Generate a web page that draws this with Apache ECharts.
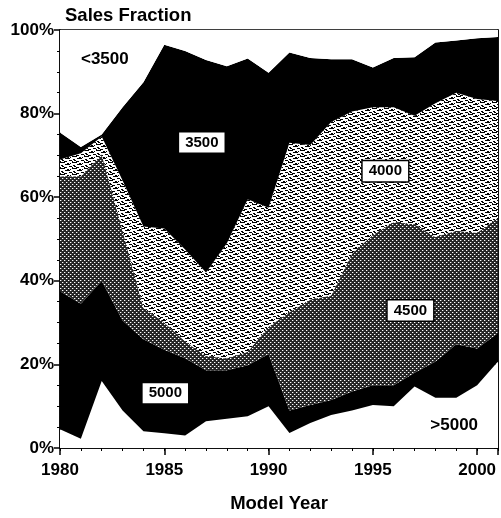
<!DOCTYPE html>
<html>
<head>
<meta charset="utf-8">
<script src="https://cdn.jsdelivr.net/npm/echarts@6/dist/echarts.min.js"></script>
<style>
  html, body { margin: 0; padding: 0; background: #ffffff; }
  #chart { width: 501px; height: 518px; }
</style>
</head>
<body>
<div id="chart"></div>
<script>
// model years
const years = ['1980', '1981', '1982', '1983', '1984', '1985', '1986', '1987', '1988', '1989', '1990',
  '1991', '1992', '1993', '1994', '1995', '1996', '1997', '1998', '1999', '2000', '2001']

// sales fraction (%) by weight class, bottom to top of the stack
const over5000 = [4.5, 2.2, 16, 9, 4, 3.5, 3, 6.4, 7, 7.6, 10, 3.6, 6, 7.9, 9, 10.3, 10, 14.7, 12, 12, 15, 20.7]
const class5000 = [33, 32.3, 24, 21.5, 22, 20, 18.5, 12.2, 11.6, 12.2, 12.5, 5.4, 4.3, 3.6, 4.5, 4.7, 5, 3.3, 8.7, 12.8, 8.8, 6.8]
const class4500 = [27.5, 30.5, 30.3, 21.5, 7.5, 6.5, 4, 3.4, 2.8, 3.2, 6.5, 23.5, 25.2, 25, 33, 36, 39, 35.5, 29.8, 27.2, 27.7, 27.5]
const class4000 = [4, 5.5, 4.2, 12, 19.5, 22.5, 22, 20, 27.6, 36.5, 28.5, 40.5, 37, 41.5, 34, 30.5, 27.5, 26, 32, 33, 32, 28]
const class3500 = [6.5, 1.5, 0.5, 17.5, 34.5, 44, 47.5, 50.8, 42.3, 33.7, 32.3, 21.6, 20.8, 15, 12.5, 9.5, 11.8, 14, 14.5, 12.5, 14.5, 15.3]
const under3500 = [24.5, 28, 25, 18.5, 12.5, 3.5, 5, 7.2, 8.7, 6.8, 10.2, 5.4, 6.7, 7, 7, 9, 6.7, 6.5, 3, 2.5, 2, 1.7]

const yTicks = [0, 20, 40, 60, 80, 100]

// region labels, placed in data space (year, %)
const labelNames = ['<3500', '3500', '4000', '4500', '5000', '>5000']
const labelAt = [[1982.15, 93.1], [1986.8, 73.1], [1995.6, 66.2], [1996.8, 32.9], [1985.05, 13.1], [1998.9, 5.5]]
const labelBoxed = [false, true, true, true, true, false]

const FONT = '"Liberation Sans", Arial, sans-serif'

const makePattern = (w, h, bg, dots) => {
  const canvas = document.createElement('canvas')
  canvas.width = w
  canvas.height = h
  const ctx = canvas.getContext('2d')
  ctx.fillStyle = bg
  ctx.fillRect(0, 0, w, h)
  dots.forEach(([x, y, c]) => {
    ctx.fillStyle = c
    ctx.fillRect(x, y, 1, 1)
  })
  return { image: canvas, repeat: 'repeat' }
}

// dark halftone dots for 4500
const dotsDark = makePattern(4, 4, '#262626', [
  [0, 0, '#ffffff'], [2, 2, '#ffffff'], [1, 0, '#6e6e6e'], [3, 2, '#6e6e6e']
])
// light horizontal speckle for 4000
const speck = [
  [0, 0], [1, 0], [2, 0], [3, 0], [4, 0], [7, 1], [8, 1], [10, 1], [5, 2], [6, 2], [7, 2], [8, 2], [9, 2],
  [1, 3], [2, 3], [9, 4], [10, 4], [11, 4], [2, 4], [3, 4], [4, 5], [5, 5], [6, 5], [0, 5]
]
const stipple = makePattern(12, 6, '#ffffff', speck.map(([x, y]) => [x, y, '#000000']))

const areaSeries = (name, values, fill) => ({
  name,
  type: 'line',
  stack: 'share',
  symbol: 'none',
  xAxisIndex: 0,
  yAxisIndex: 0,
  lineStyle: { width: 0, color: 'transparent' },
  itemStyle: { color: typeof fill === 'string' ? fill : '#666666' },
  areaStyle: { color: fill, opacity: 1 },
  data: values
})

const chart = echarts.init(document.getElementById('chart'))

chart.setOption({
  animation: false,
  backgroundColor: '#ffffff',
  textStyle: { fontFamily: FONT },
  title: {
    text: 'Sales Fraction',
    left: 60,
    top: 1,
    textStyle: { fontFamily: FONT, fontSize: 18.5, fontWeight: 'bold', color: '#000' }
  },
  grid: {
    left: 60,
    right: 3,
    top: 30,
    bottom: 68,
    show: true,
    borderColor: '#000',
    borderWidth: 1.5
  },
  xAxis: [
    {
      type: 'category',
      data: years,
      boundaryGap: false,
      name: 'Model Year',
      nameLocation: 'middle',
      nameGap: 46,
      nameTextStyle: { fontFamily: FONT, fontSize: 18.5, fontWeight: 'bold', color: '#000' },
      axisLine: { lineStyle: { color: '#000', width: 1.5 } },
      axisTick: { interval: 0, length: 3, lineStyle: { color: '#000', width: 1 } },
      splitLine: { show: false },
      axisLabel: {
        interval: 4,
        margin: 14,
        fontFamily: FONT,
        fontSize: 17,
        fontWeight: 'bold',
        color: '#000'
      }
    },
    {
      type: 'value',
      min: 1980,
      max: 2001,
      interval: 5,
      position: 'bottom',
      axisLine: { show: false },
      axisTick: { length: 7, lineStyle: { color: '#000', width: 1.5 } },
      axisLabel: { show: false },
      splitLine: { show: false }
    }
  ],
  yAxis: [
    {
      type: 'value',
      min: 0,
      max: 100,
      interval: 20,
      axisLine: { show: true, lineStyle: { color: '#000', width: 1.5 } },
      axisTick: { show: true, length: 6, lineStyle: { color: '#000', width: 1.5 } },
      minorTick: { show: true, splitNumber: 4, length: 3, lineStyle: { color: '#000', width: 1 } },
      splitLine: { show: false },
      axisLabel: {
        margin: 6,
        fontFamily: FONT,
        fontSize: 17,
        fontWeight: 'bold',
        color: '#000',
        formatter: (v) => (yTicks.includes(v) ? v + '%' : '')
      }
    },
    {
      type: 'value',
      min: 0,
      max: 100,
      interval: 20,
      position: 'right',
      axisLine: { show: true, lineStyle: { color: '#000', width: 1.5 } },
      axisTick: { show: true, inside: true, length: 4, lineStyle: { color: '#000' } },
      minorTick: { show: true, splitNumber: 4, length: 4, lineStyle: { color: '#000' } },
      axisLabel: { show: false },
      splitLine: { show: false }
    }
  ],
  series: [
    areaSeries('>5000', over5000, '#ffffff'),
    areaSeries('5000', class5000, '#000000'),
    areaSeries('4500', class4500, dotsDark),
    areaSeries('4000', class4000, stipple),
    areaSeries('3500', class3500, '#000000'),
    areaSeries('<3500', under3500, '#ffffff'),
    {
      type: 'scatter',
      xAxisIndex: 1,
      yAxisIndex: 0,
      symbolSize: 1,
      itemStyle: { color: 'transparent', opacity: 1 },
      z: 10,
      silent: true,
      data: labelNames.map((name, i) => ({
        value: labelAt[i],
        label: {
          show: true,
          position: 'inside',
          formatter: name,
          fontFamily: FONT,
          fontSize: labelBoxed[i] ? 15 : 17,
          fontWeight: 'bold',
          color: '#000',
          opacity: 1,
          backgroundColor: labelBoxed[i] ? '#ffffff' : 'transparent',
          borderColor: labelBoxed[i] ? '#000000' : 'transparent',
          borderWidth: labelBoxed[i] ? 1.5 : 0,
          padding: labelBoxed[i] ? [3, 6, 2, 6] : 0
        }
      }))
    }
  ]
})
</script>
</body>
</html>
